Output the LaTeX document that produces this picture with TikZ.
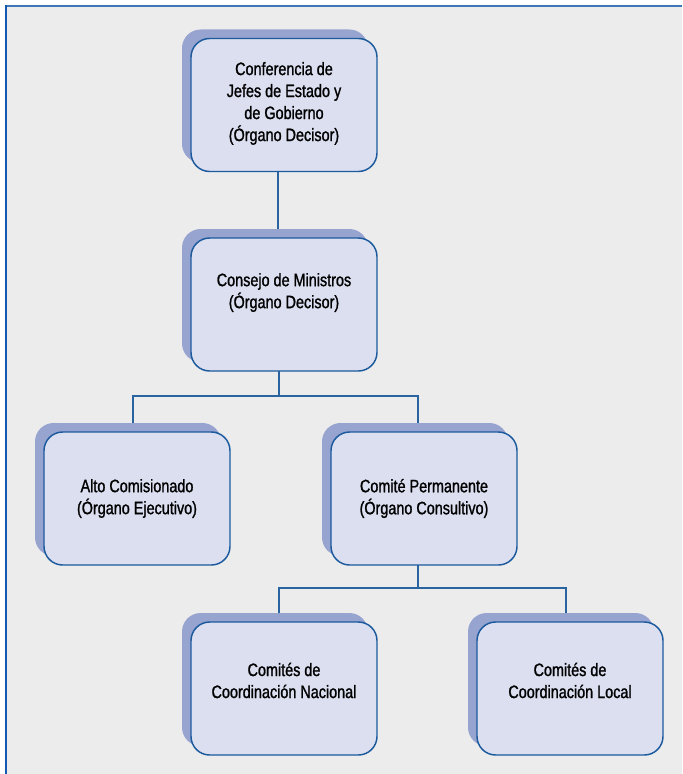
\documentclass[tikz,border=0pt]{standalone}
\usepackage{fontspec}
\setmainfont[FakeStretch=0.8, FakeBold=1.2]{Liberation Sans}
\usetikzlibrary{shadows}

\definecolor{panelbg}{HTML}{ECECEC}
\definecolor{framebluetop}{HTML}{3D77B8}
\definecolor{frameblueleft}{HTML}{1558B0}
\definecolor{boxfill}{HTML}{DCDFF0}
\definecolor{boxshade}{HTML}{97A4CF}
\definecolor{boxline}{HTML}{1C5A9E}
\definecolor{linkline}{HTML}{2A64A0}

\tikzset{
  orgbox/.style={
    draw=boxline, line width=1.1pt, fill=boxfill,
    rounded corners=14pt,
    minimum width=139.5pt, minimum height=99.75pt, inner sep=0pt,
    general shadow={shadow xshift=-6.75pt, shadow yshift=6.75pt,
                    fill=boxshade, draw=none}
  },
  boxtext/.style={
    align=center, inner sep=0pt, text=black,
    font=\fontsize{13.5}{16.5}\selectfont
  },
  link/.style={draw=linkline, line width=1.1pt}
}

\begin{document}
\begin{tikzpicture}[x=0.75pt, y=-0.75pt]
  \useasboundingbox (0,0) rectangle (682,774);

  % panel background and frame edges
  \fill[white] (0,0) rectangle (682,774);
  \fill[panelbg] (6,6) rectangle (682,774);
  \draw[framebluetop, line width=1.5pt] (5,6) -- (682,6);
  \draw[frameblueleft, line width=1.5pt] (6,5) -- (6,774);

  % junction points of the branching connectors
  \coordinate (j1) at (279,396);
  \coordinate (j2) at (418,588);

  % box centres; boxes are placed after the connectors so their shadows sit on top
  \path
    (284,105)   coordinate (p1)
    (284,304.5) coordinate (p2)
    (137,498.5) coordinate (p3)
    (424,498.5) coordinate (p4)
    (284,688.5) coordinate (p5)
    (570,688.5) coordinate (p6);

  \draw[link] ([xshift=-4.5pt]p1) -- ([xshift=-4.5pt]p2);
  \draw[link] ([xshift=-3.75pt]p2) -- (j1);
  \draw[link] ([xshift=-3pt]p3) |- (j1) -| ([xshift=-4.5pt]p4);
  \draw[link] ([xshift=-4.5pt]p4) -- (j2);
  \draw[link] ([xshift=-3.75pt]p5) |- (j2) -| ([xshift=-3pt]p6);

  \node[orgbox] (b1) at (p1) {};
  \node[orgbox] (b2) at (p2) {};
  \node[orgbox] (b3) at (p3) {};
  \node[orgbox] (b4) at (p4) {};
  \node[orgbox] (b5) at (p5) {};
  \node[orgbox] (b6) at (p6) {};

  \node[boxtext] (t1) at ([yshift=1.2pt]b1.center)
    {Conferencia de\\Jefes de Estado y\\de Gobierno\\(Órgano Decisor)};
  \node[boxtext] (t2) at ([yshift=9pt]b2.center)
    {Consejo de Ministros\\(Órgano Decisor)};
  \node[boxtext] (t3) at (b3.center)
    {Alto Comisionado\\(Órgano Ejecutivo)};
  \node[boxtext] (t4) at (b4.center)
    {Comité Permanente\\(Órgano Consultivo)};
  \node[boxtext] (t5) at ([yshift=6pt]b5.center)
    {Comités de\\Coordinación Nacional};
  \node[boxtext] (t6) at ([yshift=6pt]b6.center)
    {Comités de\\Coordinación Local};
\end{tikzpicture}
\end{document}
